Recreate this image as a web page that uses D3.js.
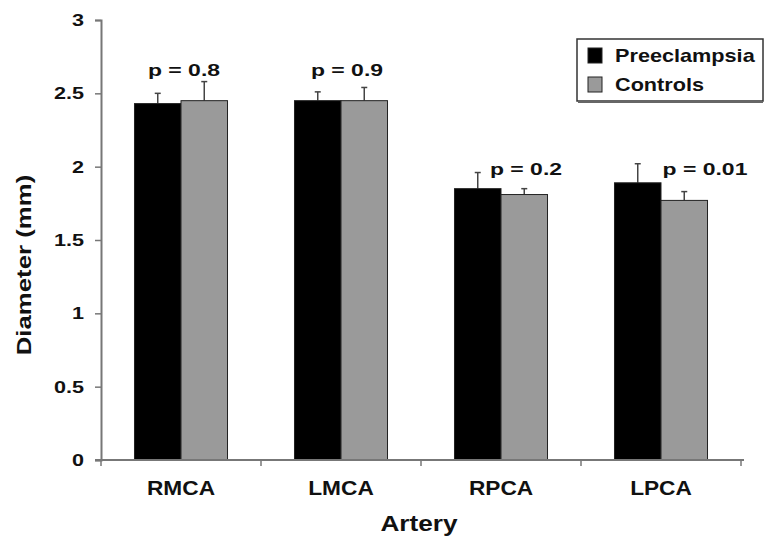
<!DOCTYPE html>
<html>
<head>
<meta charset="utf-8">
<script src="https://cdn.jsdelivr.net/npm/d3@7"></script>
<style>
  body { margin: 0; background: #fff; }
  text { font-family: "Liberation Sans", Arial, sans-serif; font-weight: bold; fill: #111; }
</style>
</head>
<body>
<div id="chart"></div>
<script>
// Chart data
var categories = ["RMCA", "LMCA", "RPCA", "LPCA"];
var seriesNames = ["Preeclampsia", "Controls"];
var preeclampsia = [2.43, 2.45, 1.85, 1.89];
var controls = [2.45, 2.45, 1.81, 1.77];
var preeclampsiaErr = [0.07, 0.06, 0.11, 0.13];
var controlsErr = [0.13, 0.09, 0.04, 0.06];
var pLabels = ["p = 0.8", "p = 0.9", "p = 0.2", "p = 0.01"];
var yTicks = [0, 0.5, 1, 1.5, 2, 2.5, 3];

// Where the p labels sit (dx from group centre in px, height in data units)
var pLabelLayout = [[3, 2.62], [6, 2.62], [25, 1.94], [44, 1.94]];

var colors = {"Preeclampsia": "#000", "Controls": "#9a9a9a"};

var width = 765, height = 539;
var margin = {top: 20, right: 24, bottom: 79, left: 101};

var svg = d3.select("#chart").append("svg")
            .attr("width", width)
            .attr("height", height);

var x0 = d3.scaleBand()
    .domain(categories)
    .range([margin.left, width - margin.right])
    .padding(0);

var x1 = d3.scaleBand()
    .domain(seriesNames)
    .range([0, x0.bandwidth()])
    .paddingInner(0)
    .paddingOuter(0.72);

var y = d3.scaleLinear()
    .domain([0, 3])
    .range([height - margin.bottom, margin.top]);

// Stretch text horizontally to match the wide lettering of the original
function stretch(sel, factor) {
  sel.each(function() {
    var w = this.getComputedTextLength();
    d3.select(this).attr("textLength", w * factor)
                   .attr("lengthAdjust", "spacingAndGlyphs");
  });
}

// Rows of values per category
var rows = categories.map(function(c, i) {
  return {cat: c, values: [
    {name: "Preeclampsia", v: preeclampsia[i], e: preeclampsiaErr[i]},
    {name: "Controls", v: controls[i], e: controlsErr[i]}
  ]};
});

// Bars
var groups = svg.append("g").selectAll("g")
    .data(rows)
    .enter().append("g")
    .attr("transform", function(d) { return "translate(" + x0(d.cat) + ",0)"; });

// Error bars (upper whisker only visible)
groups.selectAll("line.err")
    .data(function(d) { return d.values; })
    .enter().append("line")
    .attr("class", "err")
    .attr("x1", function(d) { return x1(d.name) + x1.bandwidth() / 2; })
    .attr("x2", function(d) { return x1(d.name) + x1.bandwidth() / 2; })
    .attr("y1", function(d) { return y(d.v); })
    .attr("y2", function(d) { return y(d.v + d.e); })
    .attr("stroke", "#444")
    .attr("stroke-width", 1.5);

groups.selectAll("line.cap")
    .data(function(d) { return d.values; })
    .enter().append("line")
    .attr("class", "cap")
    .attr("x1", function(d) { return x1(d.name) + x1.bandwidth() / 2 - 3; })
    .attr("x2", function(d) { return x1(d.name) + x1.bandwidth() / 2 + 3; })
    .attr("y1", function(d) { return y(d.v + d.e); })
    .attr("y2", function(d) { return y(d.v + d.e); })
    .attr("stroke", "#444")
    .attr("stroke-width", 1.5);

groups.selectAll("rect")
    .data(function(d) { return d.values; })
    .enter().append("rect")
    .attr("x", function(d) { return x1(d.name); })
    .attr("y", function(d) { return y(d.v); })
    .attr("width", x1.bandwidth())
    .attr("height", function(d) { return y(0) - y(d.v); })
    .attr("fill", function(d) { return colors[d.name]; })
    .attr("stroke", "#222")
    .attr("stroke-width", 1);

// p value labels
svg.append("g").selectAll("text")
    .data(pLabels)
    .enter().append("text")
    .attr("x", function(d, i) { return x0(categories[i]) + x0.bandwidth() / 2 + pLabelLayout[i][0]; })
    .attr("y", function(d, i) { return y(pLabelLayout[i][1]); })
    .attr("text-anchor", "middle")
    .style("font-size", "17px")
    .text(function(d) { return d; })
    .call(stretch, 1.35);

// Y axis
var yAxis = svg.append("g")
    .attr("transform", "translate(" + margin.left + ",0)")
    .call(d3.axisLeft(y).tickValues(yTicks).tickFormat(d3.format("")).tickSize(6).tickPadding(11));
yAxis.select(".domain").attr("stroke", "#777").attr("stroke-width", 2);
yAxis.selectAll(".tick line").attr("stroke", "#777").attr("stroke-width", 1.5);
yAxis.selectAll(".tick text")
     .attr("fill", "#111")
     .style("font-family", "'Liberation Sans', Arial, sans-serif")
     .style("font-weight", "bold")
     .style("font-size", "17px")
     .call(stretch, 1.27);

// X axis
var xAxis = svg.append("g")
    .attr("transform", "translate(0," + y(0) + ")")
    .call(d3.axisBottom(x0).tickSize(0).tickPadding(20));
xAxis.select(".domain").attr("stroke", "#777").attr("stroke-width", 2)
     .attr("d", "M" + (margin.left - 6) + ",0H" + (width - margin.right + 3));
xAxis.selectAll(".tick text")
     .attr("fill", "#111")
     .style("font-family", "'Liberation Sans', Arial, sans-serif")
     .style("font-weight", "bold")
     .style("font-size", "21px")
     .call(stretch, 1.08);

// Category boundary ticks
svg.append("g").selectAll("line")
    .data(categories.concat(["end"]))
    .enter().append("line")
    .attr("x1", function(d, i) { return margin.left + i * x0.step(); })
    .attr("x2", function(d, i) { return margin.left + i * x0.step(); })
    .attr("y1", y(0))
    .attr("y2", y(0) + 6)
    .attr("stroke", "#777")
    .attr("stroke-width", 1.5);

// Axis titles
svg.append("text")
    .attr("transform", "translate(31," + ((margin.top + y(0)) / 2 + 25) + ") rotate(-90)")
    .attr("text-anchor", "middle")
    .style("font-size", "20px")
    .text("Diameter (mm)")
    .call(stretch, 1.29);

svg.append("text")
    .attr("x", (margin.left + width - margin.right) / 2 - 2)
    .attr("y", 531)
    .attr("text-anchor", "middle")
    .style("font-size", "22px")
    .text("Artery")
    .call(stretch, 1.19);

// Legend
var legend = svg.append("g").attr("transform", "translate(577,39)");
legend.append("rect")
    .attr("x", 0).attr("y", 0)
    .attr("width", 186).attr("height", 62)
    .attr("fill", "#fff")
    .attr("stroke", "#333")
    .attr("stroke-width", 1.5);
legend.append("line")
    .attr("x1", 1).attr("x2", 186)
    .attr("y1", 63).attr("y2", 63)
    .attr("stroke", "#666").attr("stroke-width", 2);

var items = legend.selectAll("g.item")
    .data(seriesNames)
    .enter().append("g")
    .attr("class", "item")
    .attr("transform", function(d, i) { return "translate(11," + (9 + i * 29) + ")"; });
items.append("rect")
    .attr("width", 14).attr("height", 15)
    .attr("fill", function(d) { return colors[d]; })
    .attr("stroke", "#222").attr("stroke-width", 1);
items.append("text")
    .attr("x", 27).attr("y", 14)
    .style("font-size", "19px")
    .text(function(d) { return d; })
    .call(stretch, 1.14);
</script>
</body>
</html>
